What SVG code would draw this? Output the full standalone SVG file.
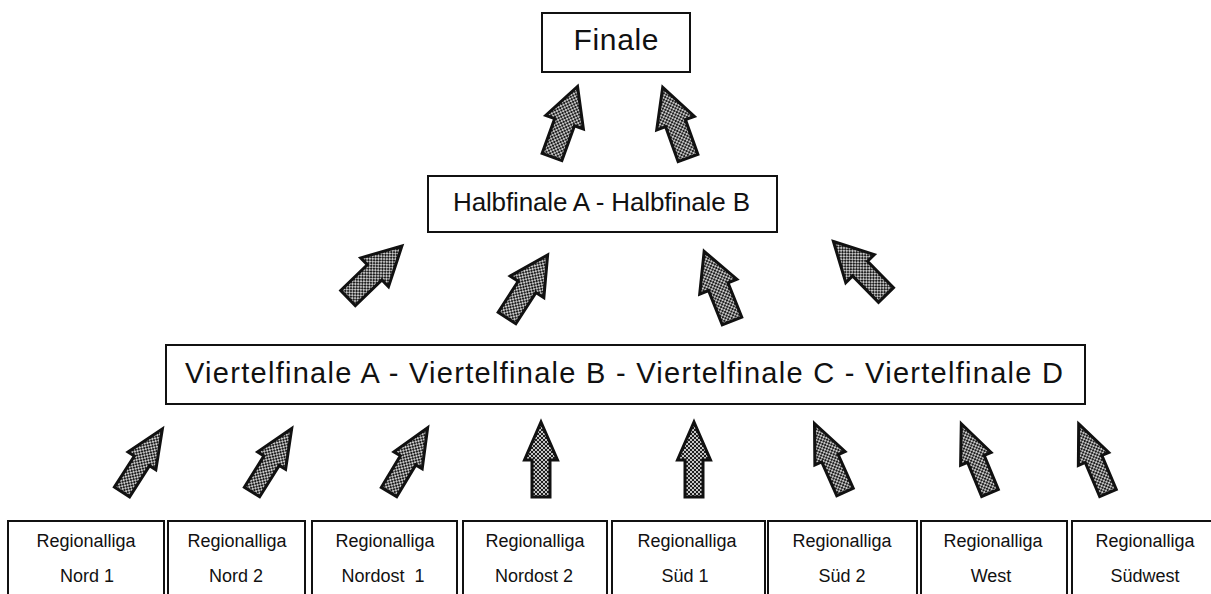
<svg xmlns="http://www.w3.org/2000/svg" width="1211" height="594" viewBox="0 0 1211 594">
<style>
.box{fill:#fff;stroke:#111;stroke-width:2}
.t{font-family:"Liberation Sans",Arial,sans-serif;fill:#111;text-anchor:middle}
.s{font-size:18px}
.arr{fill:url(#dots);stroke:#111;stroke-width:3;stroke-linejoin:miter}
</style>
<defs>
<pattern id="dots" width="4" height="4" patternUnits="userSpaceOnUse">
<rect width="4" height="4" fill="#c4c4c4"/>
<rect width="2" height="2" fill="#1e1e1e"/>
<rect x="2" y="2" width="2" height="2" fill="#1e1e1e"/>
</pattern>
<path id="big" d="M0,-75 L20,-37 L10.5,-37 L10.5,0 L-10.5,0 L-10.5,-37 L-20,-37 Z"/>
<path id="small" d="M0,-75 L16.5,-37 L9,-37 L9,0 L-9,0 L-9,-37 L-16.5,-37 Z"/>
</defs>

<g id="finale">
<rect class="box" x="542" y="13" width="148" height="59"/>
<text class="t" x="616" y="50" font-size="30" textLength="85" lengthAdjust="spacing">Finale</text>
</g>

<g id="halbfinale">
<rect class="box" x="428" y="176" width="349" height="56"/>
<text class="t" x="601.5" y="211" font-size="26" textLength="297" lengthAdjust="spacing">Halbfinale A - Halbfinale B</text>
</g>

<g id="viertelfinale">
<rect class="box" x="166" y="345" width="919" height="59"/>
<text class="t" x="624" y="383" font-size="29" textLength="878" lengthAdjust="spacing">Viertelfinale A - Viertelfinale B - Viertelfinale C - Viertelfinale D</text>
</g>

<g id="rl-nord1">
<rect class="box" x="8" y="521" width="156" height="80"/>
<text class="t s" x="86" y="547">Regionalliga</text>
<text class="t s" x="87" y="582">Nord 1</text>
</g>
<g id="rl-nord2">
<rect class="box" x="168" y="521" width="137" height="80"/>
<text class="t s" x="237" y="547">Regionalliga</text>
<text class="t s" x="236" y="582">Nord 2</text>
</g>
<g id="rl-nordost1">
<rect class="box" x="312" y="521" width="145" height="80"/>
<text class="t s" x="385" y="547">Regionalliga</text>
<text class="t s" x="383" y="582" xml:space="preserve">Nordost  1</text>
</g>
<g id="rl-nordost2">
<rect class="box" x="463" y="521" width="144" height="80"/>
<text class="t s" x="535" y="547">Regionalliga</text>
<text class="t s" x="534" y="582">Nordost 2</text>
</g>
<g id="rl-sued1">
<rect class="box" x="612" y="521" width="153" height="80"/>
<text class="t s" x="687" y="547">Regionalliga</text>
<text class="t s" x="685" y="582">Süd 1</text>
</g>
<g id="rl-sued2">
<rect class="box" x="768" y="521" width="149" height="80"/>
<text class="t s" x="842" y="547">Regionalliga</text>
<text class="t s" x="842" y="582">Süd 2</text>
</g>
<g id="rl-west">
<rect class="box" x="921" y="521" width="146" height="80"/>
<text class="t s" x="993" y="547">Regionalliga</text>
<text class="t s" x="991" y="582">West</text>
</g>
<g id="rl-suedwest">
<rect class="box" x="1072" y="521" width="150" height="80"/>
<text class="t s" x="1145" y="547">Regionalliga</text>
<text class="t s" x="1145" y="582">Südwest</text>
</g>

<g id="connectors">
<use class="arr" href="#big" transform="translate(552,157) rotate(19.9)"/>
<use class="arr" href="#big" transform="translate(688,158) rotate(-19.7)"/>
<use class="arr" href="#big" transform="translate(348,298) rotate(46)"/>
<use class="arr" href="#big" transform="translate(507,318) rotate(32.8)"/>
<use class="arr" href="#big" transform="translate(732,321) rotate(-21.8)"/>
<use class="arr" href="#big" transform="translate(886,295) rotate(-44.5)"/>
<use class="arr" href="#small" transform="translate(122,492) rotate(32.6)"/>
<use class="arr" href="#small" transform="translate(252,492) rotate(32)"/>
<use class="arr" href="#small" transform="translate(389,492) rotate(31)"/>
<use class="arr" href="#small" transform="translate(541,497)"/>
<use class="arr" href="#small" transform="translate(694,497)"/>
<use class="arr" href="#small" transform="translate(845,492) rotate(-24)"/>
<use class="arr" href="#small" transform="translate(990,493) rotate(-22.5)"/>
<use class="arr" href="#small" transform="translate(1108,493) rotate(-23)"/>
</g>
</svg>
